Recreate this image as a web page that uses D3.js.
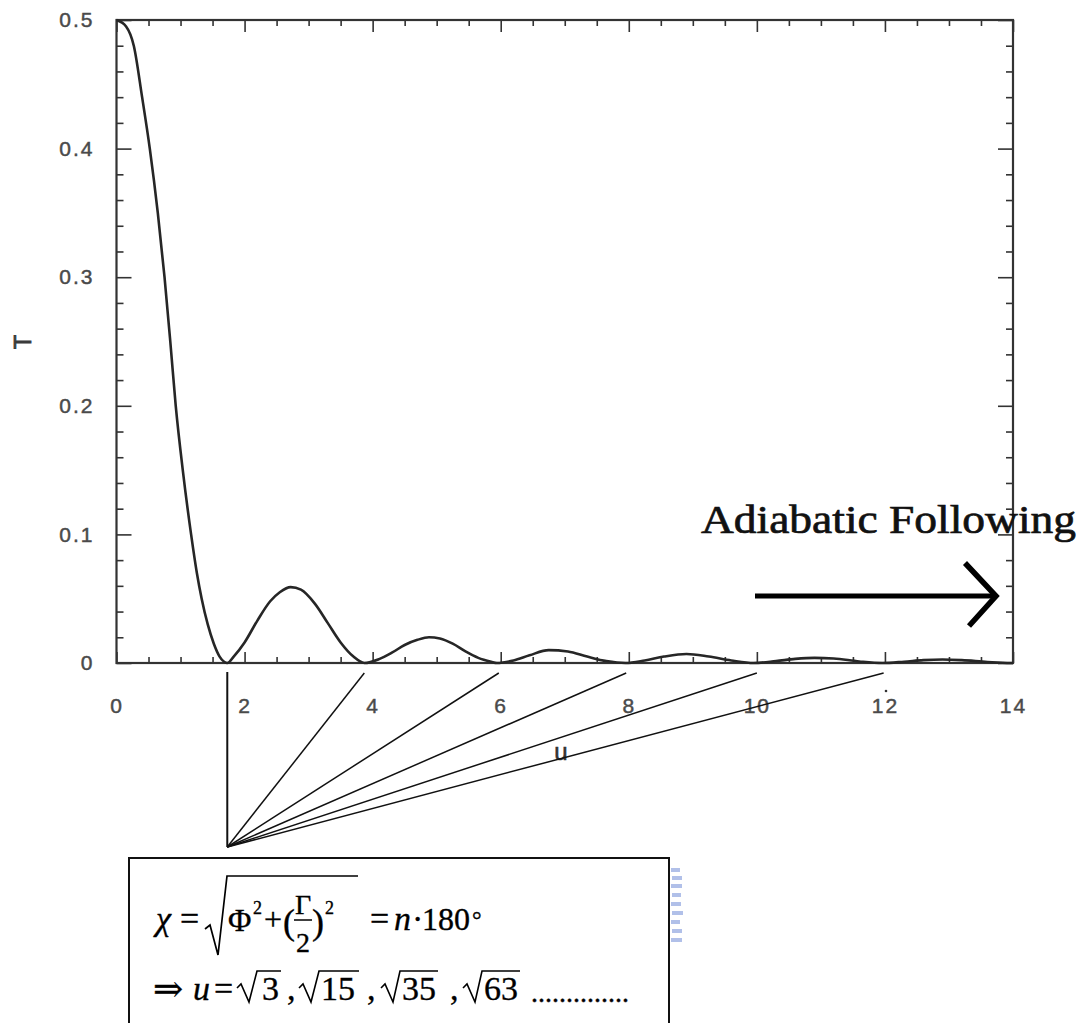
<!DOCTYPE html>
<html>
<head>
<meta charset="utf-8">
<script src="https://cdn.jsdelivr.net/npm/d3@7"></script>
<style>
  html, body { margin: 0; padding: 0; background: #fff; }
  svg { display: block; }
</style>
</head>
<body>
<svg id="chart" width="1085" height="1023"></svg>
<script>
// Transmission T as a function of the pulse-area parameter u
const uValues = [
  0, 0.15, 0.27, 0.40, 0.52, 0.645, 0.75, 0.84, 0.925, 1.035, 1.165, 1.255, 1.33, 1.425, 1.52, 1.61, 1.68, 1.73,
  1.83, 2.0, 2.2, 2.4, 2.55, 2.72, 2.88, 3.1, 3.3, 3.5, 3.7, 3.87,
  4.1, 4.3, 4.5, 4.7, 4.88, 5.05, 5.25, 5.45, 5.65, 5.85, 5.94,
  6.2, 6.45, 6.75, 7.05, 7.35, 7.65, 7.95,
  8.25, 8.55, 8.9, 9.25, 9.6, 9.95,
  10.3, 10.6, 10.9, 11.2, 11.6, 11.96,
  12.3, 12.6, 12.9, 13.2, 13.6, 13.96, 14
];
const tValues = [
  0.5, 0.495, 0.48, 0.44, 0.40, 0.35, 0.30, 0.25, 0.20, 0.15, 0.10, 0.07, 0.05, 0.03, 0.015, 0.005, 0.001, 0,
  0.005, 0.016, 0.033, 0.048, 0.055, 0.059, 0.057, 0.046, 0.031, 0.016, 0.005, 0,
  0.003, 0.008, 0.014, 0.018, 0.020, 0.019, 0.015, 0.009, 0.004, 0.001, 0,
  0.002, 0.006, 0.010, 0.009, 0.005, 0.0015, 0,
  0.002, 0.005, 0.007, 0.005, 0.002, 0,
  0.0015, 0.0032, 0.004, 0.0035, 0.0012, 0,
  0.001, 0.0022, 0.0027, 0.0022, 0.0008, 0, 0
];

const xTickValues = [0, 2, 4, 6, 8, 10, 12, 14];
const xTickLabels = ["0", "2", "4", "6", "8", "10", "12", "14"];
const yTickValues = [0, 0.1, 0.2, 0.3, 0.4, 0.5];
const yTickLabels = ["0", "0.1", "0.2", "0.3", "0.4", "0.5"];

// first transmission zero and the u positions the pointer lines run to
const firstZero = 1.73;
const pointerEnds = [3.87, 5.97, 7.96, 10.0, 11.98];

const xTitle = "u";
const yTitle = "T";
const noteText = "Adiabatic Following";

const svg = d3.select("#chart");
const x = d3.scaleLinear().domain([0, 14]).range([116.5, 1013]);
const y = d3.scaleLinear().domain([0, 0.5]).range([663, 20]);

const axisInk = "#333";
const labelInk = "#4a4a4a";
const sans = "'Liberation Sans', Arial, Helvetica, sans-serif";

// ---- minor tick positions ----
const minorX = d3.range(0, 29).map(i => i * 0.5).filter(v => v % 2 !== 0);
const minorY = d3.range(0, 26).filter(i => i % 5 !== 0).map(i => i * 0.02);

function styleAxis(g) {
  g.select(".domain").remove();
  g.selectAll(".tick line").attr("stroke", axisInk).attr("stroke-width", 1.6);
  g.selectAll(".tick text")
    .attr("fill", labelInk)
    .attr("stroke", labelInk)
    .attr("stroke-width", 0.45)
    .style("font-family", sans)
    .style("font-size", "21px")
    .style("letter-spacing", "2px");
}

// bottom axis with labels
svg.append("g").attr("transform", `translate(0,${y(0)})`)
  .call(d3.axisBottom(x).tickValues(xTickValues).tickSizeInner(-11).tickSizeOuter(0)
    .tickPadding(35).tickFormat((d, i) => xTickLabels[i]))
  .call(styleAxis);
svg.append("g").attr("transform", `translate(0,${y(0)})`)
  .call(d3.axisBottom(x).tickValues(minorX).tickSizeInner(-6).tickSizeOuter(0).tickFormat(""))
  .call(styleAxis);

// top axis
svg.append("g").attr("transform", `translate(0,${y(0.5)})`)
  .call(d3.axisTop(x).tickValues(xTickValues).tickSizeInner(-12).tickSizeOuter(0).tickFormat(""))
  .call(styleAxis);
svg.append("g").attr("transform", `translate(0,${y(0.5)})`)
  .call(d3.axisTop(x).tickValues(minorX).tickSizeInner(-6).tickSizeOuter(0).tickFormat(""))
  .call(styleAxis);

// left axis with labels
svg.append("g").attr("transform", `translate(${x(0)},0)`)
  .call(d3.axisLeft(y).tickValues(yTickValues).tickSizeInner(-15).tickSizeOuter(0)
    .tickPadding(22).tickFormat((d, i) => yTickLabels[i]))
  .call(styleAxis);
svg.append("g").attr("transform", `translate(${x(0)},0)`)
  .call(d3.axisLeft(y).tickValues(minorY).tickSizeInner(-7).tickSizeOuter(0).tickFormat(""))
  .call(styleAxis);

// right axis
svg.append("g").attr("transform", `translate(${x(14)},0)`)
  .call(d3.axisRight(y).tickValues(yTickValues).tickSizeInner(-15).tickSizeOuter(0).tickFormat(""))
  .call(styleAxis);
svg.append("g").attr("transform", `translate(${x(14)},0)`)
  .call(d3.axisRight(y).tickValues(minorY).tickSizeInner(-7).tickSizeOuter(0).tickFormat(""))
  .call(styleAxis);

// plot frame
svg.append("rect")
  .attr("x", x(0)).attr("y", y(0.5))
  .attr("width", x(14) - x(0)).attr("height", y(0) - y(0.5))
  .attr("fill", "none").attr("stroke", axisInk).attr("stroke-width", 2.2);

// transmission curve
const points = uValues.map((u, i) => [u, tValues[i]]);
svg.append("path")
  .datum(points)
  .attr("fill", "none")
  .attr("stroke", "#262626")
  .attr("stroke-width", 2.6)
  .attr("stroke-linejoin", "round")
  .attr("d", d3.line().x(d => x(d[0])).y(d => y(d[1])).curve(d3.curveMonotoneX));

// axis titles
svg.append("text")
  .attr("transform", `translate(31,342) rotate(-90)`)
  .attr("text-anchor", "middle")
  .attr("fill", "#3a3a3a").attr("stroke", "#3a3a3a").attr("stroke-width", 0.8)
  .style("font-family", sans)
  .style("font-size", "23px")
  .text(yTitle);

svg.append("text")
  .attr("x", 561).attr("y", 760)
  .attr("text-anchor", "middle")
  .attr("fill", "#333").attr("stroke", "#333").attr("stroke-width", 0.6)
  .style("font-family", sans)
  .style("font-size", "24px")
  .text(xTitle);

// pointer lines from the first zero toward the later zeros
const apex = [x(firstZero), 847];
svg.append("line")
  .attr("x1", apex[0]).attr("y1", 672).attr("x2", apex[0]).attr("y2", apex[1])
  .attr("stroke", "#111").attr("stroke-width", 2);
svg.selectAll("line.pointer")
  .data(pointerEnds)
  .join("line")
  .attr("class", "pointer")
  .attr("x1", apex[0]).attr("y1", apex[1])
  .attr("x2", d => x(d)).attr("y2", 673)
  .attr("stroke", "#111").attr("stroke-width", 1.5);

// stray speck near the 12 label
svg.append("circle").attr("cx", 886).attr("cy", 691).attr("r", 1.3).attr("fill", "#333");

// "Adiabatic Following" note with arrow
svg.append("text")
  .attr("x", 701).attr("y", 533)
  .attr("textLength", 375).attr("lengthAdjust", "spacingAndGlyphs")
  .attr("fill", "#111").attr("stroke", "#111").attr("stroke-width", 0.7)
  .style("font-family", "'Liberation Serif', 'Times New Roman', serif")
  .style("font-size", "40px")
  .text(noteText);

svg.append("path")
  .attr("d", "M755,596 H993")
  .attr("stroke", "#000").attr("stroke-width", 5).attr("fill", "none");
svg.append("path")
  .attr("d", "M965,563 L996,596 L969,626")
  .attr("stroke", "#000").attr("stroke-width", 5.5).attr("fill", "none")
  .attr("stroke-linejoin", "miter").attr("stroke-linecap", "butt");

// faint blue marks at the right of the formula box
const blueMarks = [868, 876, 884, 893, 902, 911, 920, 929, 938];
svg.selectAll("rect.blue")
  .data(blueMarks)
  .join("rect")
  .attr("class", "blue")
  .attr("x", (d, i) => 671 + (i % 2))
  .attr("y", d => d)
  .attr("width", (d, i) => 9 + (i % 3))
  .attr("height", 4)
  .attr("fill", "#9db0e4")
  .attr("opacity", 0.8);

// ---- formula box ----
svg.append("rect")
  .attr("x", 129).attr("y", 858).attr("width", 540).attr("height", 220)
  .attr("fill", "#fff").attr("stroke", "#111").attr("stroke-width", 2);

const serif = "'Liberation Serif', 'Times New Roman', 'DejaVu Serif', serif";
const f = svg.append("g").attr("fill", "#000")
  .attr("stroke", "#000").attr("stroke-width", 0.35)
  .style("font-family", serif);

// one text element per formula line; each piece is a tspan placed by x/y
function formulaLine(pieces) {
  const t = f.append("text");
  pieces.forEach(p => {
    const s = t.append("tspan")
      .attr("x", p.x).attr("y", p.y)
      .style("font-size", p.size + "px")
      .text(p.s);
    if (p.it) s.style("font-style", "italic");
  });
}
function radical(d, w) {
  f.append("path").attr("d", d).attr("fill", "none").attr("stroke", "#000")
    .attr("stroke-width", w || 1.6).attr("stroke-linejoin", "miter");
}

// line 1: chi = sqrt(Phi^2 + (Gamma/2)^2) = n·180°
radical("M205,929 L210,925 L218,955 L227,876 L358,876", 1.7);
f.append("line").attr("x1", 294).attr("x2", 312).attr("y1", 920).attr("y2", 920)
  .attr("stroke", "#000").attr("stroke-width", 1.5);
formulaLine([
  { s: "\u03C7", x: 156, y: 930, size: 34, it: true },
  { s: "=", x: 180, y: 930, size: 34 },
  { s: "\u03A6", x: 228, y: 931, size: 32 },
  { s: "2", x: 253, y: 914, size: 18 },
  { s: "+", x: 264, y: 930, size: 32 },
  { s: "(", x: 283, y: 934, size: 36 },
  { s: "\u0393", x: 295, y: 914, size: 28 },
  { s: "2", x: 296, y: 952, size: 28 },
  { s: ")", x: 312, y: 934, size: 36 },
  { s: "2", x: 325, y: 914, size: 18 },
  { s: "=", x: 370, y: 930, size: 34 },
  { s: "n", x: 394, y: 930, size: 34, it: true },
  { s: "\u00B7", x: 412, y: 930, size: 34 },
  { s: "180", x: 422, y: 930, size: 32 },
  { s: "\u00B0", x: 472, y: 928, size: 24 }
]);

// line 2: => u = sqrt3, sqrt15, sqrt35, sqrt63 ....
radical("M237,988 L241,984 L249,1002 L257,971 L281,971");
radical("M299,988 L303,984 L311,1002 L319,971 L359,971");
radical("M381,988 L385,984 L393,1002 L400,971 L438,971");
radical("M463,988 L467,984 L475,1002 L482,971 L520,971");
formulaLine([
  { s: "\u21D2", x: 153, y: 1001, size: 36 },
  { s: "u", x: 193, y: 1000, size: 34, it: true },
  { s: "=", x: 214, y: 1000, size: 34 },
  { s: "3", x: 262, y: 1000, size: 34 },
  { s: ",", x: 287, y: 1000, size: 34 },
  { s: "15", x: 321, y: 1000, size: 34 },
  { s: ",", x: 367, y: 1000, size: 34 },
  { s: "35", x: 402, y: 1000, size: 34 },
  { s: ",", x: 450, y: 1000, size: 34 },
  { s: "63", x: 484, y: 1000, size: 34 },
  { s: "..............", x: 531, y: 1002, size: 28 }
]);
</script>
</body>
</html>
